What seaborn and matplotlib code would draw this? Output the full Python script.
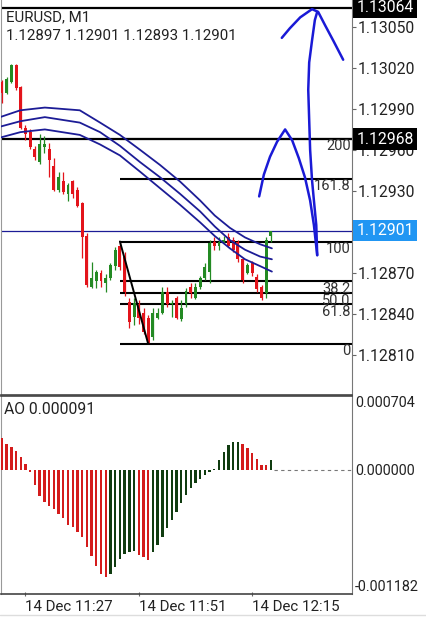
import matplotlib
matplotlib.use("Agg")
import matplotlib.pyplot as plt
from matplotlib.lines import Line2D
import numpy as np
import pandas as pd
import seaborn as sns

sns.set_style("white")
plt.rcParams['font.family'] = ['Roboto', 'DejaVu Sans']

# ---------------- data ----------------
bars = list(range(-5, 53))  # minute index, 0 = 14 Dec 11:27
opens = [1.13010, 1.13002, 1.13010, 1.13022, 1.13006, 1.12976, 1.12973, 1.12961, 1.12951, 1.12962,
         1.12961, 1.12948, 1.12931, 1.12937, 1.12928, 1.12937, 1.12931, 1.12921, 1.12897, 1.12860,
         1.12864, 1.12870, 1.12863, 1.12866, 1.12875, 1.12890, 1.12882, 1.12849, 1.12838, 1.12847,
         1.12841, 1.12837, 1.12823, 1.12837, 1.12841, 1.12856, 1.12847, 1.12852, 1.12836, 1.12847,
         1.12860, 1.12852, 1.12860, 1.12866, 1.12871, 1.12893, 1.12890, 1.12893, 1.12896, 1.12894,
         1.12893, 1.12880, 1.12870, 1.12877, 1.12867, 1.12860, 1.12855, 1.12897]
highs = [1.13011, 1.13013, 1.13023, 1.13023, 1.13007, 1.12978, 1.12975, 1.12963, 1.12972, 1.12970,
         1.12965, 1.12954, 1.12944, 1.12944, 1.12936, 1.12938, 1.12933, 1.12922, 1.12899, 1.12878,
         1.12872, 1.12872, 1.12869, 1.12877, 1.12889, 1.12893, 1.12885, 1.12852, 1.12852, 1.12850,
         1.12844, 1.12839, 1.12844, 1.12844, 1.12860, 1.12860, 1.12850, 1.12853, 1.12850, 1.12859,
         1.12863, 1.12863, 1.12868, 1.12877, 1.12894, 1.12896, 1.12896, 1.12897, 1.12899, 1.12896,
         1.12894, 1.12881, 1.12877, 1.12879, 1.12869, 1.12861, 1.12896, 1.12901]
lows = [1.12994, 1.13001, 1.13009, 1.13004, 1.12975, 1.12967, 1.12961, 1.12953, 1.12950, 1.12958,
        1.12940, 1.12930, 1.12929, 1.12928, 1.12923, 1.12925, 1.12918, 1.12881, 1.12860, 1.12859,
        1.12859, 1.12860, 1.12856, 1.12865, 1.12872, 1.12872, 1.12853, 1.12830, 1.12832, 1.12833,
        1.12825, 1.12818, 1.12821, 1.12836, 1.12840, 1.12845, 1.12838, 1.12836, 1.12835, 1.12845,
        1.12852, 1.12851, 1.12858, 1.12865, 1.12863, 1.12887, 1.12887, 1.12891, 1.12889, 1.12885,
        1.12878, 1.12863, 1.12869, 1.12868, 1.12856, 1.12850, 1.12852, 1.12893]
closes = [1.13002, 1.13012, 1.13022, 1.13005, 1.12976, 1.12972, 1.12962, 1.12955, 1.12964, 1.12964,
          1.12953, 1.12931, 1.12940, 1.12929, 1.12934, 1.12928, 1.12919, 1.12896, 1.12861, 1.12866,
          1.12871, 1.12864, 1.12866, 1.12876, 1.12887, 1.12874, 1.12856, 1.12834, 1.12848, 1.12837,
          1.12827, 1.12819, 1.12841, 1.12841, 1.12856, 1.12847, 1.12848, 1.12837, 1.12844, 1.12857,
          1.12855, 1.12860, 1.12866, 1.12874, 1.12892, 1.12890, 1.12893, 1.12894, 1.12890, 1.12887,
          1.12880, 1.12865, 1.12876, 1.12870, 1.12858, 1.12852, 1.12894, 1.12901]

ao_values = [0.000305, 0.000248, 0.000219, 0.000181, 0.000124, 0.000057, -0.000020, -0.000143,
             -0.000248, -0.000301, -0.000343, -0.000375, -0.000419, -0.000460, -0.000524, -0.000546,
             -0.000587, -0.000641, -0.000730, -0.000819, -0.000911, -0.000990, -0.001016, -0.000990,
             -0.000921, -0.000851, -0.000800, -0.000785, -0.000775, -0.000810, -0.000830, -0.000860,
             -0.000781, -0.000714, -0.000638, -0.000552, -0.000476, -0.000400, -0.000314, -0.000238,
             -0.000171, -0.000124, -0.000086, -0.000048, -0.000019, 0.000008, 0.000095, 0.000171,
             0.000238, 0.000267, 0.000270, 0.000248, 0.000210, 0.000162, 0.000105, 0.000048,
             0.000045, 0.000091]

ma_bars = [-5.4, -1.1, 4.1, 11.5, 15.8, 20.0, 24.3, 28.5, 32.7, 37.0, 40.1, 43.3, 46.5, 49.7, 52.2]
ma_upper = [1.12984, 1.12989, 1.12991, 1.12989, 1.12980, 1.12971, 1.12960, 1.12949, 1.12937,
            1.12923, 1.12912, 1.12903, 1.12896, 1.12891, 1.12888]
ma_middle = [1.12977, 1.12981, 1.12984, 1.12980, 1.12973, 1.12963, 1.12951, 1.12940, 1.12928,
             1.12915, 1.12904, 1.12894, 1.12887, 1.12882, 1.12880]
ma_lower = [1.12969, 1.12973, 1.12975, 1.12971, 1.12964, 1.12956, 1.12944, 1.12932, 1.12920,
            1.12907, 1.12897, 1.12888, 1.12880, 1.12875, 1.12871]

fib_start, fib_end = 20, 26
fib_high, fib_low = 1.12893, 1.12818
fib_labels = ["0", "38.2", "50.0", "61.8", "100", "161.8", "200"]
fib_prices = [1.12818, 1.12864, 1.12855, 1.12847, 1.12893, 1.12939, 1.12968]

hline_prices = [1.13064, 1.12968]
last_price = 1.12901

stroke_a_x = [49.5, 50.5, 51.8, 53.3, 55.0, 56.5, 57.9, 59.2, 60.3, 61.1, 61.8]
stroke_a_y = [1.12926, 1.12942, 1.12955, 1.12966, 1.12975, 1.12967, 1.12954, 1.12940, 1.12923, 1.12905, 1.12883]
stroke_b_x = [61.8, 61.6, 61.1, 60.7, 60.3, 60.1, 59.9, 60.1, 60.7, 61.3, 61.8]
stroke_b_y = [1.12883, 1.12905, 1.12923, 1.12938, 1.12960, 1.12982, 1.13004, 1.13024, 1.13040, 1.13055, 1.13061]
stroke_c_x = [54.3, 56.0, 58.2, 60.7, 62.0, 63.5, 65.2, 67.3]
stroke_c_y = [1.13042, 1.13049, 1.13057, 1.13063, 1.13061, 1.13051, 1.13040, 1.13026]

price_ticks = [1.12810, 1.12840, 1.12870, 1.12900, 1.12930, 1.12960, 1.12990, 1.13020, 1.13050]
ao_ticks = [-0.001182, 0.0, 0.000704]
time_ticks = [0, 24, 48]
time_labels = ["14 Dec 11:27", "14 Dec 11:51", "14 Dec 12:15"]

# ---------------- figure ----------------
W, H = 426, 625
fig = plt.figure(figsize=(W / 100, H / 100), dpi=100)
ax1 = fig.add_axes([1 / W, (H - 395) / H, 351 / W, 395 / H])
ax2 = fig.add_axes([1 / W, (H - 594) / H, 351 / W, 198 / H])

XL = (-5.19, 69.17)
GREEN = "#238a23"
RED = "#e3141b"
NAVY = "#1c1c96"
HAND = "#1a1ad6"
TXT = "#222222"
FS = 11.3

df = pd.DataFrame({"bar": bars, "open": opens, "high": highs, "low": lows, "close": closes})
df["up"] = df["close"] >= df["open"]
df["col"] = np.where(df["up"], GREEN, RED)
body_lo = np.minimum(df["open"], df["close"])
body_h = np.maximum(np.abs(df["close"] - df["open"]), 0.000012)

ax1.vlines(df["bar"], df["low"], df["high"], colors=df["col"], lw=0.9, zorder=3)
ax1.bar(df["bar"], body_h, bottom=body_lo, width=0.62, color=df["col"], zorder=4, linewidth=0)

# moving averages
for series in (ma_upper, ma_middle, ma_lower):
    sns.lineplot(x=ma_bars, y=series, ax=ax1, color=NAVY, lw=1.3, sort=False,
                 estimator=None, zorder=5)

# horizontal lines
ax1.axhline(hline_prices[0], color="black", lw=1.6, zorder=2)
ax1.axhline(hline_prices[1], color="black", lw=1.6, zorder=2)
ax1.axhline(last_price, color=NAVY, lw=0.9, zorder=2)

# fibonacci
ax1.hlines(fib_prices, fib_start, XL[1], colors="black", lw=1.5, zorder=2)
ax1.plot([fib_start, fib_end], [fib_high, fib_low], color="black", lw=1.4, zorder=6)
for lab, pr in zip(fib_labels, fib_prices):
    ax1.annotate(lab, xy=(1, pr), xycoords=("axes fraction", "data"), xytext=(-1, -0.3),
                 textcoords="offset points", ha="right", va="top", fontsize=10.5,
                 color="#333333", zorder=7)

# hand-drawn strokes
for sx, sy in ((stroke_a_x, stroke_a_y), (stroke_b_x, stroke_b_y), (stroke_c_x, stroke_c_y)):
    sns.lineplot(x=sx, y=sy, ax=ax1, color=HAND, lw=1.8, sort=False, estimator=None, zorder=8)

ax1.set_xlim(XL)
ax1.set_ylim(1.127807, 1.130697)
ax1.yaxis.tick_right()
ax1.set_yticks(price_ticks)
ax1.set_yticklabels([f"{v:.5f}" for v in price_ticks])
ax1.tick_params(axis="y", right=True, length=3, width=0.8, color="#666666", pad=1,
                labelsize=FS, labelcolor=TXT)
ax1.set_xticks([])
ax1.set_xlabel("")
ax1.set_ylabel("")

# price boxes
box_specs = [(hline_prices[0], "black"), (hline_prices[1], "black"), (last_price, "#2196f3")]
for pr, fc in box_specs:
    ax1.annotate(f"{pr:.5f}", xy=(1, pr), xycoords=("axes fraction", "data"), xytext=(3.0, 0),
                 textcoords="offset points", ha="left", va="center", fontsize=FS, color="white",
                 bbox=dict(boxstyle="square,pad=0.2", fc=fc, ec="none"),
                 annotation_clip=False, zorder=20)

for side, sp in ax1.spines.items():
    sp.set_visible(True)
ax1.spines["top"].set_visible(False)
ax1.spines["left"].set_color("#999999")
ax1.spines["right"].set_color("#777777")
ax1.spines["bottom"].set_color("#444444")
ax1.spines["bottom"].set_linewidth(1.2)

# ---------------- AO ----------------
ao_df = pd.DataFrame({"bar": bars, "ao": ao_values})
prev = ao_df["ao"].shift(1)
ao_df["col"] = np.where(ao_df["ao"] > prev, "#103c10", "#d41c1c")
ax2.bar(ao_df["bar"], ao_df["ao"], width=0.5, color=ao_df["col"], linewidth=0, zorder=3)
ax2.hlines(0, bars[-1] + 0.6, XL[1], colors="#777777", lw=0.8, linestyles=(0, (3, 3)), zorder=2)

ax2.set_xlim(XL)
ax2.set_ylim(ao_ticks[0], ao_ticks[-1])
ax2.yaxis.tick_right()
ax2.set_yticks(ao_ticks)
ax2.set_yticklabels([f"{v:.6f}" for v in ao_ticks])
labs = ax2.get_yticklabels()
labs[0].set_va("bottom")
labs[2].set_va("top")
ax2.tick_params(axis="y", right=True, length=0, pad=2, labelsize=10.4, labelcolor=TXT)
ax2.set_xticks(time_ticks)
ax2.set_xticklabels(time_labels, ha="left")
ax2.tick_params(axis="x", bottom=True, length=3, direction="inout", color="#666666",
                labelsize=10.8, labelcolor=TXT, pad=3)
ax2.set_xlabel("")
ax2.set_ylabel("")
for side, sp in ax2.spines.items():
    sp.set_visible(True)
ax2.spines["left"].set_color("#999999")
ax2.spines["right"].set_color("#777777")
ax2.spines["top"].set_color("#444444")
ax2.spines["top"].set_linewidth(1.2)
ax2.spines["bottom"].set_color("#444444")
ax2.spines["bottom"].set_linewidth(1.2)

# header texts
fig.text(6 / W, 1 - 17 / H, "EURUSD, M1", va="center", ha="left", fontsize=10.8, color=TXT)
fig.text(6 / W, 1 - 36 / H, "1.12897 1.12901 1.12893 1.12901", va="center", ha="left",
         fontsize=10.8, color=TXT)
fig.text(4 / W, 1 - 409 / H, "AO 0.000091", va="center", ha="left", fontsize=11.3, color=TXT)

fig.add_artist(Line2D([0, 1], [1 - 615 / H] * 2, color="#dddddd", lw=1))

fig.savefig("out.png", dpi=100)
